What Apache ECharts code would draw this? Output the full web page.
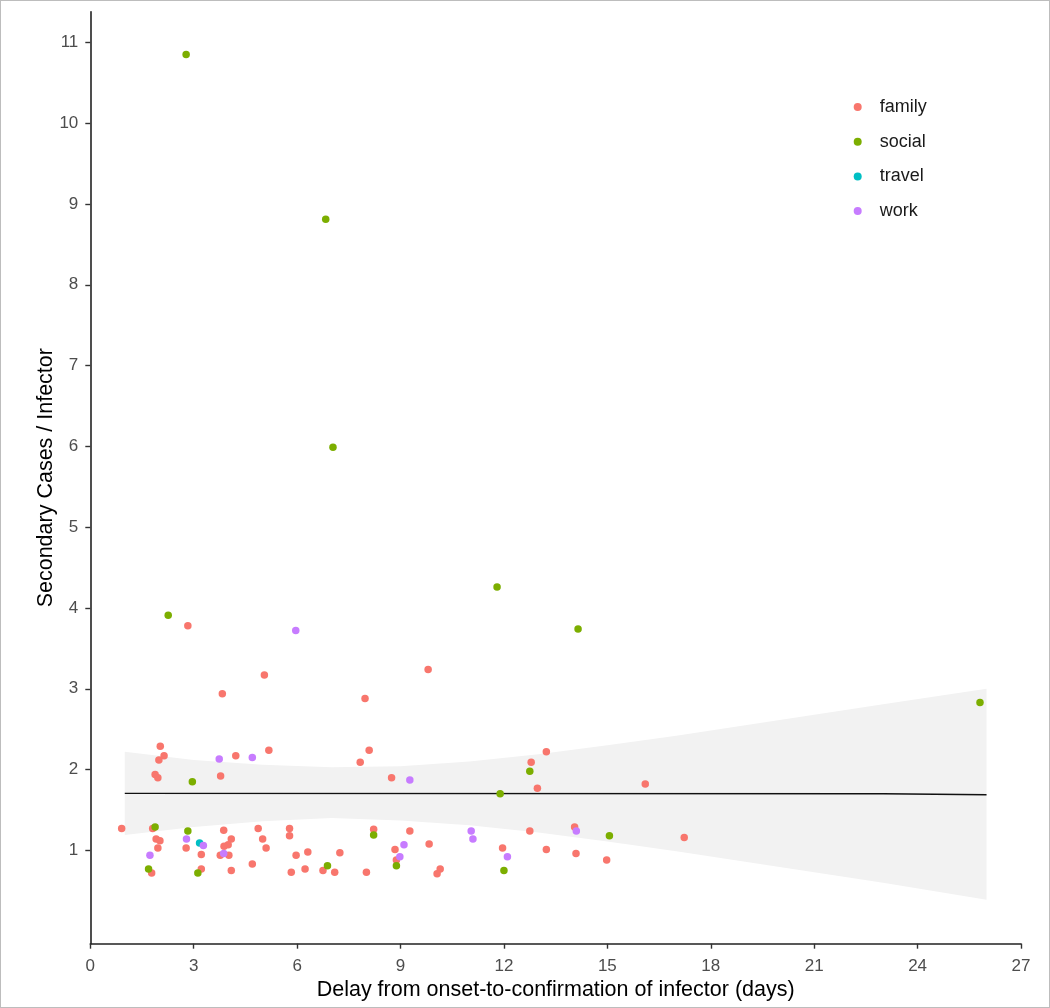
<!DOCTYPE html>
<html>
<head>
<meta charset="utf-8">
<script src="https://cdn.jsdelivr.net/npm/echarts@6/dist/echarts.min.js"></script>
<style>
  html, body { margin: 0; padding: 0; background: #fff; }
  #main { position: absolute; left: 0; top: 0; width: 1050px; height: 1008px; }
  #frame { position: absolute; left: 0; top: 0; width: 1050px; height: 1008px; box-sizing: border-box; border: 1px solid #bdbdbd; pointer-events: none; }
</style>
</head>
<body>
<div id="main"></div>
<div id="frame"></div>
<script>
// ---- Data ----
const categories = ['family', 'social', 'travel', 'work'];
const colors = ['#F8766D', '#7CAE00', '#00BFC4', '#C77CFF'];

const familyPts = [
  [2.03,2.29],[2.14,2.17],[1.99,2.12],[4.22,2.17],[5.18,2.24],[1.88,1.94],[1.96,1.90],[3.78,1.92],
  [0.91,1.27],[1.81,1.27],[3.87,1.25],[4.87,1.27],[5.78,1.27],[5.78,1.18],[1.91,1.14],[2.02,1.12],
  [4.09,1.14],[4.00,1.07],[3.88,1.05],[5.00,1.14],[5.10,1.03],[1.96,1.03],[2.78,1.03],[3.22,0.95],
  [3.77,0.94],[4.02,0.94],[5.97,0.94],[6.31,0.98],[7.24,0.97],[1.78,0.72],[3.22,0.77],[4.09,0.75],
  [4.70,0.83],[5.83,0.73],[6.23,0.77],[6.75,0.75],[7.09,0.73],
  [8.09,2.24],[7.83,2.09],[8.74,1.90],[8.22,1.26],[9.27,1.24],[8.01,0.73],[8.84,1.01],[9.83,1.08],
  [8.88,0.88],[10.15,0.77],[10.06,0.71],[11.96,1.03],[12.79,2.09],[13.23,2.22],[12.97,1.77],
  [12.75,1.24],[13.23,1.01],[14.05,1.29],[14.09,0.96],[16.10,1.82],[14.98,0.88],[17.23,1.16],
  [2.83,3.78],[3.83,2.94],[5.05,3.17],[7.97,2.88],[9.80,3.24]
];
const socialPts = [
  [2.96,1.85],[1.88,1.29],[2.83,1.24],[1.69,0.77],[3.12,0.72],[6.88,0.81],[8.22,1.19],[8.88,0.81],
  [11.89,1.70],[12.00,0.75],[12.75,1.98],[15.06,1.18],[25.81,2.83],[2.26,3.91],[11.80,4.26],
  [14.15,3.74],[2.78,10.85],[6.83,8.81],[7.04,5.99]
];
const travelPts = [[3.17,1.09]];
const workPts = [
  [3.74,2.13],[4.70,2.15],[2.79,1.14],[3.28,1.06],[1.73,0.94],[3.87,0.96],[9.27,1.87],[9.10,1.07],
  [8.98,0.92],[11.05,1.24],[11.10,1.14],[12.10,0.92],[14.10,1.24],[5.96,3.72]
];

// fitted line and confidence band
const fitX = [1, 23, 23, 26];
const fitY = [1.705, 1.70, 1.688, 1.688];
const bandX     = [1,    3,    5,    7,    9,    11,   13,   15,   17,   19,   21,   23,   26];
const bandUpper = [2.22, 2.12, 2.06, 2.03, 2.04, 2.10, 2.19, 2.30, 2.42, 2.55, 2.68, 2.81, 3.00];
const bandLower = [1.19, 1.29, 1.36, 1.40, 1.37, 1.31, 1.22, 1.11, 0.99, 0.86, 0.73, 0.60, 0.39];

const xTicks = [0, 3, 6, 9, 12, 15, 18, 21, 24, 27];
const yTicks = [1, 2, 3, 4, 5, 6, 7, 8, 9, 10, 11];

const xTitle = 'Delay from onset-to-confirmation of infector (days)';
const yTitle = 'Secondary Cases / Infector';

// ---- Chart ----
const chart = echarts.init(document.getElementById('main'), null, { renderer: 'canvas' });
const FONT = "'Liberation Sans', Arial, sans-serif";
const seriesPts = [familyPts, socialPts, travelPts, workPts];

const bandData = bandX.map((x, i) => [x, bandLower[i], bandUpper[i]]);

const option = {
  animation: false,
  backgroundColor: '#ffffff',
  grid: { left: 90.3, right: 29, top: 11.7, bottom: 64.3, containLabel: false },
  xAxis: {
    type: 'value', min: 0, max: 27, interval: 3,
    name: xTitle, nameLocation: 'middle', nameGap: 35, nameMoveOverlap: false,
    nameTextStyle: { fontFamily: FONT, fontSize: 21.5, color: '#000' },
    axisLine: { show: true, onZero: false, lineStyle: { color: '#222', width: 1.6 } },
    axisTick: { show: true, length: 5, lineStyle: { color: '#333', width: 1.4 } },
    axisLabel: { fontFamily: FONT, fontSize: 17, color: '#4d4d4d', margin: 14,
      customValues: xTicks },
    splitLine: { show: false }
  },
  yAxis: {
    type: 'value', min: -0.155, max: 11.38,
    name: yTitle, nameLocation: 'middle', nameGap: 33, nameRotate: 90, nameMoveOverlap: false,
    nameTextStyle: { fontFamily: FONT, fontSize: 21.5, color: '#000' },
    axisLine: { show: true, onZero: false, lineStyle: { color: '#222', width: 1.6 } },
    axisTick: { show: true, length: 5, lineStyle: { color: '#333', width: 1.4 }, customValues: yTicks },
    axisLabel: { fontFamily: FONT, fontSize: 17, color: '#4d4d4d', margin: 12, customValues: yTicks },
    splitLine: { show: false }
  },
  legend: {
    orient: 'vertical', left: 848.7, top: 93,
    data: categories.map(c => ({ name: c, icon: 'circle' })),
    itemWidth: 8, itemHeight: 8, itemGap: 16.7,
    textStyle: { fontFamily: FONT, fontSize: 18, color: '#1a1a1a', lineHeight: 16, padding: [0, 0, 0, 13] },
    selectedMode: false
  },
  series: [
    {
      type: 'custom', name: 'band', silent: true, z: 1,
      data: bandData,
      renderItem: function (params, api) {
        if (params.dataIndex !== 0) return null;
        const pts = [];
        for (let i = 0; i < bandX.length; i++) pts.push(api.coord([bandX[i], bandUpper[i]]));
        for (let i = bandX.length - 1; i >= 0; i--) pts.push(api.coord([bandX[i], bandLower[i]]));
        return { type: 'polygon', shape: { points: pts, smooth: 0 }, style: { fill: '#f2f2f2', stroke: null } };
      },
      encode: { x: 0, y: [1, 2] }
    },
    {
      type: 'line', name: 'fit', silent: true, z: 2,
      data: fitX.map((x, i) => [x, fitY[i]]),
      showSymbol: false, symbol: 'none',
      lineStyle: { color: '#111', width: 1.4 }
    }
  ].concat(categories.map((c, k) => ({
    type: 'scatter', name: c, z: 3,
    data: seriesPts[k],
    symbol: 'circle', symbolSize: 7.5,
    itemStyle: { color: colors[k], opacity: 1 }
  })))
};
chart.setOption(option);
</script>
</body>
</html>
